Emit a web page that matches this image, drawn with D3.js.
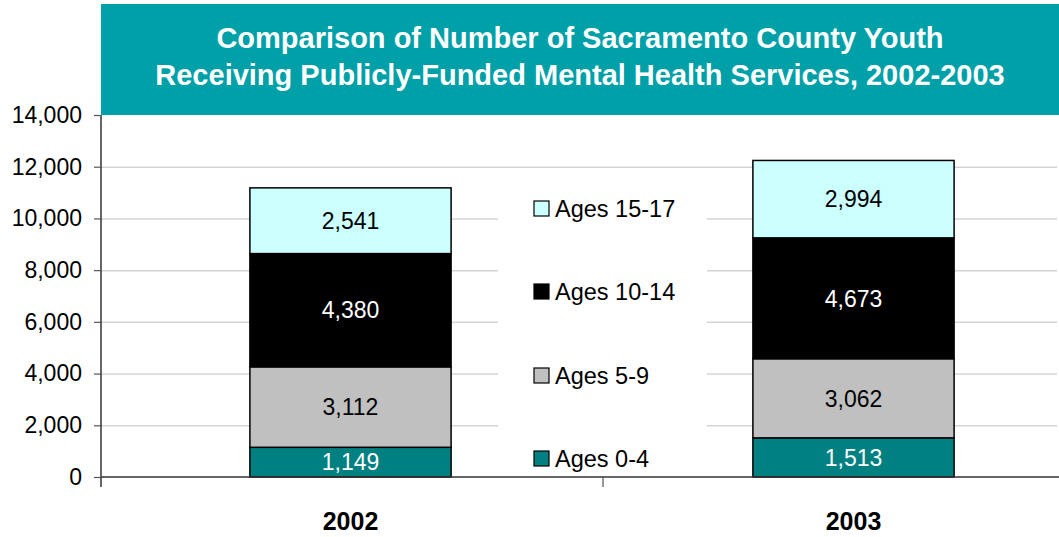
<!DOCTYPE html>
<html>
<head>
<meta charset="utf-8">
<script src="https://cdn.jsdelivr.net/npm/d3@7"></script>
<style>
  body { margin: 0; background: #fff; }
  svg { display: block; font-family: "Liberation Sans", Arial, sans-serif; }
  .grid line { stroke: #d4d4d4; stroke-width: 1.5; }
  .grid path { display: none; }
</style>
</head>
<body>
<svg width="1059" height="537"></svg>
<script>
// data
var years = ["2002", "2003"];
var groups = ["Ages 0-4", "Ages 5-9", "Ages 10-14", "Ages 15-17"];
var ages0to4 = [1149, 1513];
var ages5to9 = [3112, 3062];
var ages10to14 = [4380, 4673];
var ages15to17 = [2541, 2994];
var yTicks = [0, 2000, 4000, 6000, 8000, 10000, 12000, 14000];

var colors = ["#008080", "#c0c0c0", "#000000", "#ccffff"];
var labelColors = ["#fff", "#000", "#fff", "#000"];

var svg = d3.select("svg");
var margin = {top: 115, left: 101, bottom: 477};

// rows for d3.stack
var rows = years.map(function(y, i) {
  return {year: y, "Ages 0-4": ages0to4[i], "Ages 5-9": ages5to9[i],
          "Ages 10-14": ages10to14[i], "Ages 15-17": ages15to17[i]};
});
var series = d3.stack().keys(groups)(rows);

var x = d3.scaleBand().domain(years).range([99, 1105]).paddingInner(0.6).paddingOuter(0.3);
var y = d3.scaleLinear().domain([0, 14000]).range([margin.bottom, margin.top]);

// title banner
svg.append("rect").attr("x", 101).attr("y", 4).attr("width", 958).attr("height", 111).attr("fill", "#00a0a8");
svg.append("text").attr("x", 580).attr("y", 48).attr("text-anchor", "middle")
  .attr("fill", "#fff").style("font-weight", "bold").style("font-size", "29px")
  .text("Comparison of Number of Sacramento County Youth");
svg.append("text").attr("x", 580).attr("y", 85).attr("text-anchor", "middle")
  .attr("fill", "#fff").style("font-weight", "bold").style("font-size", "29px")
  .text("Receiving Publicly-Funded Mental Health Services, 2002-2003");

// gridlines
svg.append("g").attr("class", "grid")
  .attr("transform", "translate(" + margin.left + ",0)")
  .call(d3.axisRight(y).tickValues(yTicks.slice(1, 7)).tickSize(956).tickFormat(""));

// legend background hides the grid behind it
svg.append("rect").attr("x", 498).attr("y", 170).attr("width", 209).attr("height", 305).attr("fill", "#fff");

// bars
var layer = svg.selectAll(".layer").data(series).enter().append("g")
  .attr("fill", function(d, i) { return colors[i]; });

layer.selectAll("rect").data(function(d) { return d; }).enter().append("rect")
  .attr("x", function(d) { return x(d.data.year); })
  .attr("y", function(d) { return y(d[1]); })
  .attr("width", x.bandwidth())
  .attr("height", function(d) { return y(d[0]) - y(d[1]); })
  .attr("stroke", "#000").attr("stroke-width", 1.5);

layer.selectAll("text").data(function(d, i) { return d.map(function(v) { return {v: v, i: i}; }); })
  .enter().append("text")
  .attr("x", function(d) { return x(d.v.data.year) + x.bandwidth() / 2; })
  .attr("y", function(d) { return (y(d.v[0]) + y(d.v[1])) / 2; })
  .attr("dy", "0.36em")
  .attr("text-anchor", "middle")
  .attr("fill", function(d) { return labelColors[d.i]; })
  .style("font-size", "23px")
  .text(function(d) { return d3.format(",")(d.v[1] - d.v[0]); });

// y axis
var yAxis = svg.append("g").attr("transform", "translate(" + margin.left + ",0)")
  .call(d3.axisLeft(y).tickValues(yTicks).tickSize(7).tickPadding(12).tickFormat(d3.format(",")));
yAxis.select(".domain").attr("d", "M0," + margin.top + "V487").attr("stroke", "#000").attr("stroke-width", 1.2);
yAxis.selectAll(".tick line").attr("stroke", "#555").attr("stroke-width", 1.2);
yAxis.selectAll(".tick text").style("font-size", "23px").attr("fill", "#000");

// x axis
svg.append("line").attr("x1", margin.left).attr("x2", 1059).attr("y1", y(0)).attr("y2", y(0))
  .attr("stroke", "#333").attr("stroke-width", 1.5);
svg.append("line").attr("x1", 603).attr("x2", 603).attr("y1", y(0)).attr("y2", 487)
  .attr("stroke", "#555").attr("stroke-width", 1.2);
svg.selectAll(".xlab").data(years).enter().append("text")
  .attr("x", function(d) { return x(d) + x.bandwidth() / 2; })
  .attr("y", 530).attr("text-anchor", "middle")
  .style("font-weight", "bold").style("font-size", "25px")
  .text(function(d) { return d; });

// legend, top entry is the top layer
var legendY = [209, 292, 376, 459];
var legend = svg.selectAll(".leg").data(groups.slice().reverse()).enter().append("g")
  .attr("transform", function(d, i) { return "translate(534," + legendY[i] + ")"; });
legend.append("rect").attr("x", 0).attr("y", -8).attr("width", 15).attr("height", 15)
  .attr("fill", function(d) { return colors[groups.indexOf(d)]; })
  .attr("stroke", "#000").attr("stroke-width", 1.2);
legend.append("text").attr("x", 21).attr("dy", "0.36em")
  .style("font-size", "23.5px").text(function(d) { return d; });
</script>
</body>
</html>
